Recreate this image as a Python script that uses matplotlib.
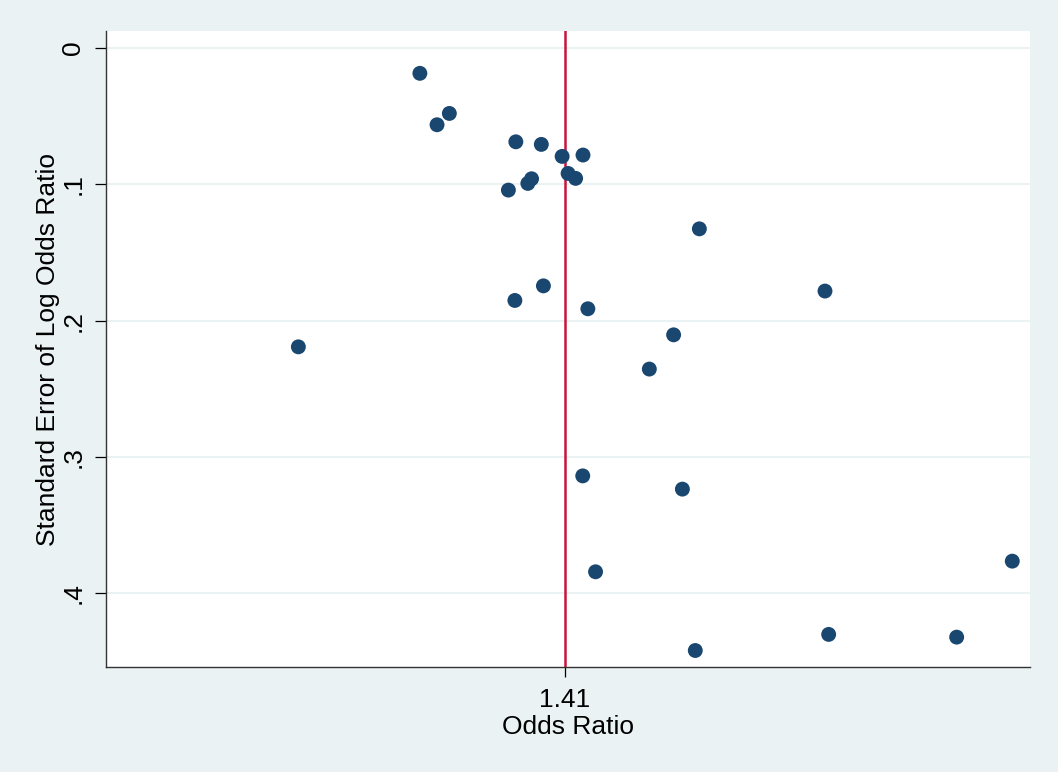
import matplotlib
matplotlib.use("Agg")
import matplotlib.pyplot as plt

# funnel plot data: odds ratio and standard error of log odds ratio per study
odds_ratio = [0.981, 1.056, 1.024, 1.247, 1.329, 1.400, 1.475, 1.421, 1.448,
              1.297, 1.285, 1.224, 1.973, 0.724, 1.244, 1.336, 1.493, 1.850,
              1.741, 1.474, 1.891, 2.701, 4.314, 2.726, 3.754, 1.953, 1.522]
se_log_or = [0.0188, 0.0482, 0.0565, 0.0690, 0.0709, 0.0797, 0.0787, 0.0922,
             0.0958, 0.0961, 0.0995, 0.1044, 0.1328, 0.2193, 0.1853, 0.1746,
             0.1914, 0.2105, 0.2356, 0.3139, 0.3236, 0.1784, 0.3764, 0.4301,
             0.4321, 0.4419, 0.3842]
pooled_or = 1.41
y_ticks = [0, 0.1, 0.2, 0.3, 0.4]
y_tick_labels = ["0", ".1", ".2", ".3", ".4"]

bg = "#EAF2F3"
plt.rcParams['font.family'] = ['Liberation Sans', 'DejaVu Sans']

fig = plt.figure(figsize=(10.58, 7.72), dpi=100, facecolor=bg)
ax = fig.add_axes([0.1002, 0.136, 0.8733, 0.8238])
ax.set_facecolor("white")

ax.scatter(odds_ratio, se_log_or, s=115, color="#1A476F", edgecolor="none", zorder=3)
ax.axvline(pooled_or, color="#C8143C", linewidth=1.8, zorder=2)

ax.set_xscale("log")
ax.set_xlim(0.4476, 4.509)
ax.set_ylim(0.454, -0.0122)
ax.minorticks_off()
ax.set_xticks([pooled_or])
ax.set_xticklabels(["1.41"])
ax.set_yticks(y_ticks)
ax.set_yticklabels(y_tick_labels, rotation=90, va="center")
ax.grid(axis="y", color=bg, linewidth=1.5, zorder=0)
ax.set_axisbelow(True)

for side in ["top", "right"]:
    ax.spines[side].set_visible(False)
for side in ["left", "bottom"]:
    ax.spines[side].set_color("#333333")
    ax.spines[side].set_linewidth(1.0)

ax.tick_params(axis="y", length=8, width=0.9, pad=7, labelsize=19)
ax.tick_params(axis="x", length=7, width=0.9, pad=8, labelsize=19)
ax.set_xlabel("Odds Ratio", fontsize=19, labelpad=2)
ax.set_ylabel("Standard Error of Log Odds Ratio", fontsize=19, labelpad=1)

fig.savefig("out.png", dpi=100, facecolor=bg)
